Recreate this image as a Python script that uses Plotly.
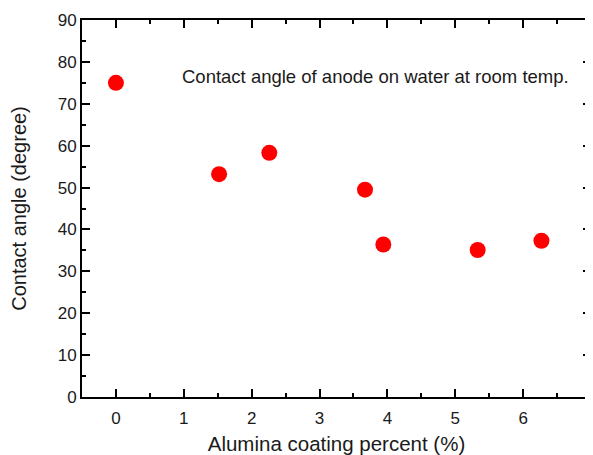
import plotly.graph_objects as go

x_vals = [0.0, 1.52, 2.26, 3.67, 3.94, 5.33, 6.27]
y_vals = [75.0, 53.2, 58.3, 49.5, 36.4, 35.1, 37.3]
x_ticks = [0, 1, 2, 3, 4, 5, 6, 7]
y_ticks = [0, 10, 20, 30, 40, 50, 60, 70, 80, 90]
x_title = "Alumina coating percent (%)"
y_title = "Contact angle (degree)"
note = "Contact angle of anode on water at room temp."

FONT = "Liberation Sans, Arial, Helvetica"
X_RANGE = [-0.5, 7.0001]

fig = go.Figure()
fig.add_trace(go.Scatter(x=x_vals, y=y_vals, mode="markers",
                         marker=dict(color="#ff0000", size=16, line=dict(width=0)),
                         showlegend=False, cliponaxis=False))
# invisible trace so the tick-only overlay axis is drawn
fig.add_trace(go.Scatter(x=x_vals, y=y_vals, xaxis="x2", mode="markers",
                         marker=dict(opacity=0), showlegend=False, hoverinfo="skip"))

tickfont = dict(family=FONT, size=17, color="#1a1a1a")

# main x axis: labels only (transparent outside ticks push labels down a bit)
fig.update_layout(xaxis=dict(range=X_RANGE, tickmode="array", tickvals=x_ticks,
                             ticktext=[str(v) for v in x_ticks],
                             ticks="outside", ticklen=5, tickcolor="rgba(0,0,0,0)",
                             showline=True, linecolor="black", linewidth=2, mirror=True,
                             showgrid=False, zeroline=False, automargin=False,
                             ticklabeloverflow="allow", tickfont=tickfont,
                             title=dict(text=x_title, font=dict(family=FONT, size=20.5, color="#1a1a1a"),
                                        standoff=11)))
# overlay x axis: inside major/minor ticks, mirrored on top
fig.update_layout(xaxis2=dict(range=X_RANGE, overlaying="x", side="bottom", anchor="y",
                              tickmode="array", tickvals=x_ticks, showticklabels=False,
                              ticks="inside", ticklen=8, tickwidth=2, tickcolor="black",
                              minor=dict(ticks="inside", dtick=0.5, ticklen=4, tickwidth=2,
                                         tickcolor="black"),
                              showline=True, linecolor="black", linewidth=2, mirror="ticks",
                              showgrid=False, zeroline=False, automargin=False))

fig.update_yaxes(range=[0, 90.0001], tickmode="array", tickvals=y_ticks,
                 ticktext=[str(v) for v in y_ticks],
                 showline=True, linecolor="black", linewidth=2, mirror="ticks",
                 ticks="inside", tickcolor="black", tickwidth=2, ticklen=8,
                 showgrid=False, zeroline=False, automargin=False,
                 ticklabeloverflow="allow", tickfont=tickfont,
                 minor=dict(ticks="inside", dtick=5, ticklen=4, tickwidth=2, tickcolor="black"),
                 title=dict(text=y_title, font=dict(family=FONT, size=20, color="#1a1a1a"), standoff=26))

fig.add_annotation(x=0.94, y=76.6, xref="x", yref="y", text=note, showarrow=False,
                   xanchor="left", yanchor="middle",
                   font=dict(family=FONT, size=18.5, color="#1a1a1a"))

# page body has an 8px default margin, so the figure is offset by 8px
fig.update_layout(width=585, height=447, margin=dict(l=74, r=2, t=12, b=58, autoexpand=False),
                  plot_bgcolor="white", paper_bgcolor="white", hovermode="closest")
fig.write_html("out.html")
